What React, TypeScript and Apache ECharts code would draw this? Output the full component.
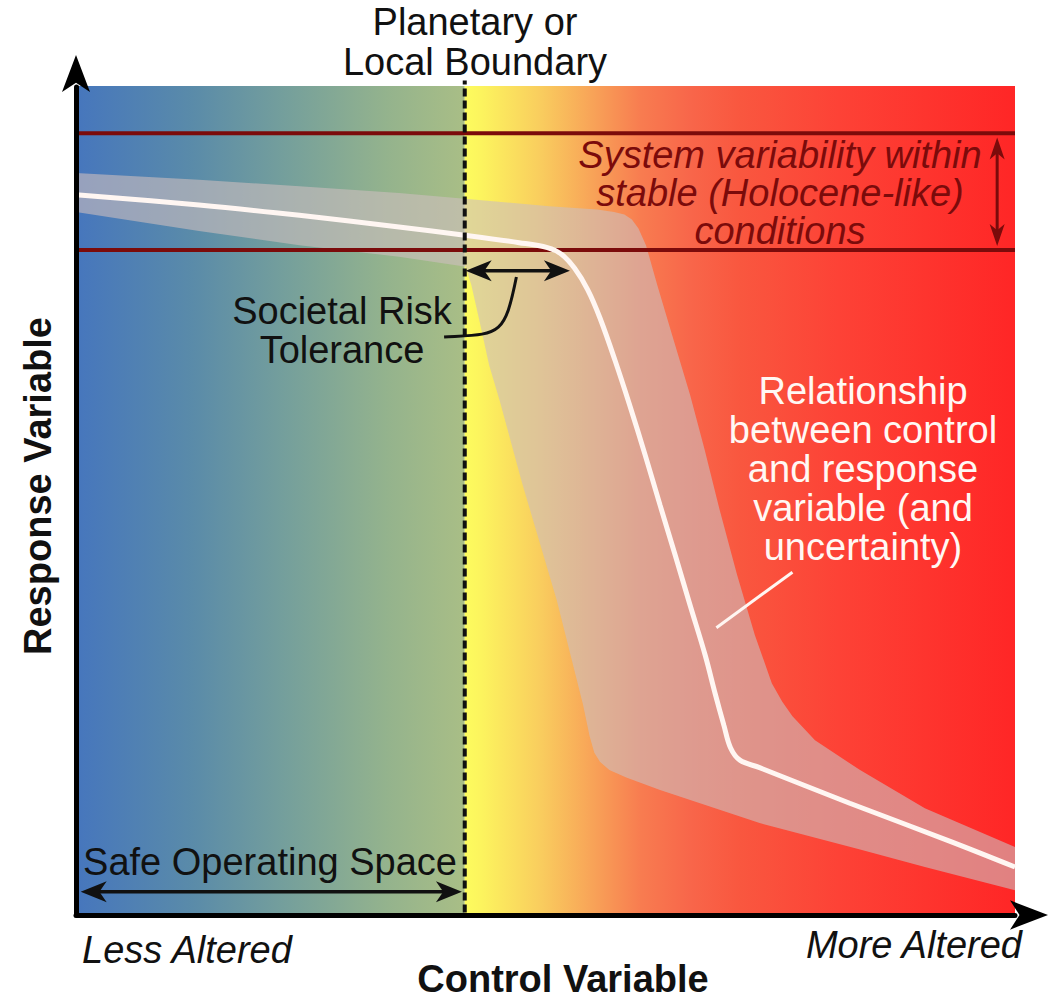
import React, { useEffect, useRef } from 'react';
import * as echarts from 'echarts';

// ---- Data (in abstract 0-100 axis units) ----
const xRange = [0, 100];
const yRange = [0, 100];
const boundaryX = 41.4;
const stableUpperY = 94.4;
const stableLowerY = 80.3;

const curveX = [0, 13.1, 23.8, 34.4, 41.4, 47.2, 50.2, 51.7, 53.1, 54.5, 55.8, 57.4, 58.96, 60.6, 62.2, 63.8, 65.4, 67.0, 68.1, 69.0, 69.7, 70.7, 72.8, 82.4, 93.1, 100];
const curveY = [87.0, 85.75, 84.5, 83.1, 82.1, 81.2, 80.6, 79.8, 78.1, 75.5, 72.1, 67.0, 61.6, 55.6, 49.5, 43.5, 37.4, 31.4, 26.6, 22.9, 20.2, 18.7, 17.8, 13.5, 8.9, 5.8];

const bandUpperX = [0, 13.1, 23.8, 34.4, 41.4, 50.4, 55.5, 57.3, 58.4, 59.2, 59.9, 60.7, 61.9, 63.5, 65.4, 66.95, 68.55, 70.4, 72.3, 74.1, 75.2, 76.3, 78.7, 83.5, 90.4, 100];
const bandUpperY = [89.6, 88.8, 88.0, 87.2, 86.5, 85.6, 85.2, 84.9, 84.6, 84.0, 82.9, 80.9, 76.1, 70.0, 62.8, 56.2, 48.9, 41.1, 33.8, 28.0, 25.8, 24.0, 21.1, 17.5, 12.9, 8.2];
const bandLowerX = [100, 90.4, 83.5, 72.8, 62.2, 58.6, 56.8, 55.8, 55.2, 54.7, 54.0, 51.2, 47.5, 45.1, 44.0, 43.0, 42.1, 41.5, 40.3, 34.4, 23.8, 13.1, 0];
const bandLowerY = [3.0, 5.8, 7.9, 11.1, 15.1, 16.6, 17.5, 18.5, 19.6, 21.6, 25.4, 38.0, 52.2, 62.2, 66.4, 71.6, 76.1, 78.3, 78.5, 79.5, 80.9, 82.6, 84.9];

const safeArrow = [0.5, 2.8, 41.1, 2.8];
const riskArrow = [41.5, 77.8, 52.6, 77.8];
const variabilityArrow = [98.1, 93.9, 98.1, 80.8];
const riskLeaderX = [46.9, 45.6, 45.1, 39.2];
const riskLeaderY = [77.05, 69.7, 70.2, 69.8];
const relationLeaderX = [76.3, 68.2];
const relationLeaderY = [41.4, 34.7];

const FONT = '"Liberation Sans", Arial, Helvetica, sans-serif';

function arrowShapes(p1: number[], p2: number[], headLen: number, headW: number, color: string, lw: number) {
  const dx = p2[0] - p1[0];
  const dy = p2[1] - p1[1];
  const len = Math.hypot(dx, dy) || 1;
  const ux = dx / len, uy = dy / len;
  const nx = -uy, ny = ux;
  const head = (tip: number[], dirx: number, diry: number) => {
    const bx = tip[0] - dirx * headLen, by = tip[1] - diry * headLen;
    const mx = tip[0] - dirx * headLen * 0.72, my = tip[1] - diry * headLen * 0.72;
    return {
      type: 'polygon',
      shape: { points: [tip, [bx + nx * headW / 2, by + ny * headW / 2], [mx, my], [bx - nx * headW / 2, by - ny * headW / 2]] },
      style: { fill: color },
    };
  };
  return [
    {
      type: 'line',
      shape: { x1: p1[0] + ux * headLen * 0.6, y1: p1[1] + uy * headLen * 0.6, x2: p2[0] - ux * headLen * 0.6, y2: p2[1] - uy * headLen * 0.6 },
      style: { stroke: color, lineWidth: lw },
    },
    head(p1, -ux, -uy),
    head(p2, ux, uy),
  ];
}

export default function App() {
  const ref = useRef<HTMLDivElement>(null);
  useEffect(() => {
    if (!ref.current) return;
    document.body.style.margin = '0';
    const chart = echarts.init(ref.current, undefined, { renderer: 'svg' });

    const safeStops = [
      { offset: 0, color: '#4676bd' },
      { offset: 0.3, color: '#5a8ba9' },
      { offset: 0.55, color: '#76a09b' },
      { offset: 0.8, color: '#94b38d' },
      { offset: 1, color: '#a9be86' },
    ];
    const riskStops = [
      { offset: 0, color: '#fdfc5e' },
      { offset: 0.03, color: '#fcf45e' },
      { offset: 0.14, color: '#f9cc5e' },
      { offset: 0.23, color: '#f8a458' },
      { offset: 0.32, color: '#f87c50' },
      { offset: 0.41, color: '#f8664a' },
      { offset: 0.5, color: '#f9573f' },
      { offset: 0.68, color: '#fd4236' },
      { offset: 1, color: '#ff2626' },
    ];

    const text = (x: number, y: number, t: string, extra: any = {}) => ({
      type: 'text',
      x,
      y,
      z: 100,
      rotation: extra.rotation || 0,
      style: {
        text: t,
        fontFamily: FONT,
        fontSize: extra.fontSize || 38,
        fontStyle: extra.fontStyle || 'normal',
        fontWeight: extra.fontWeight || 'normal',
        fill: extra.fill || '#111',
        lineHeight: extra.lineHeight || 40,
        align: extra.align || 'center',
        textAlign: extra.align || 'center',
        verticalAlign: 'middle',
        textVerticalAlign: 'middle',
      },
    });

    const option: any = {
      animation: false,
      grid: { left: 76, right: 46, top: 87, bottom: 85 },
      xAxis: {
        type: 'value', min: xRange[0], max: xRange[1], z: 10,
        axisLine: { show: true, lineStyle: { color: '#000', width: 5 }, symbol: ['none', 'arrow'], symbolSize: [22, 38], symbolOffset: [0, 33] },
        axisTick: { show: false }, axisLabel: { show: false }, splitLine: { show: false },
      },
      yAxis: {
        type: 'value', min: yRange[0], max: yRange[1], z: 10,
        axisLine: { show: true, lineStyle: { color: '#000', width: 5 }, symbol: ['none', 'arrow'], symbolSize: [21, 37], symbolOffset: [0, 32] },
        axisTick: { show: false }, axisLabel: { show: false }, splitLine: { show: false },
      },
      series: [
        {
          type: 'custom', z: 1, silent: true, clip: false,
          data: [[xRange[0], boundaryX, 0], [boundaryX, xRange[1], 1]],
          renderItem: (_p: any, api: any) => {
            const x0 = api.value(0), x1 = api.value(1), idx = api.value(2);
            const a = api.coord([x0, yRange[1]]);
            const b = api.coord([x1, yRange[0]]);
            return {
              type: 'rect',
              shape: { x: a[0], y: a[1] - 1, width: b[0] - a[0], height: b[1] - a[1] + 1 },
              style: { fill: new echarts.graphic.LinearGradient(0, 0, 1, 0, idx === 0 ? safeStops : riskStops) },
            };
          },
        },
        {
          type: 'custom', z: 2, silent: true, clip: true,
          data: [[0, 0]],
          renderItem: (_p: any, api: any) => {
            const pts: number[][] = [];
            bandUpperX.forEach((x, i) => pts.push(api.coord([x, bandUpperY[i]])));
            bandLowerX.forEach((x, i) => pts.push(api.coord([x, bandLowerY[i]])));
            return { type: 'polygon', shape: { points: pts }, style: { fill: 'rgba(205,190,190,0.6)' } };
          },
        },
        {
          type: 'line', z: 3, symbol: 'none', silent: true,
          data: [[xRange[0], stableUpperY], [xRange[1], stableUpperY]],
          lineStyle: { color: '#7b0b0b', width: 4 },
        },
        {
          type: 'line', z: 3, symbol: 'none', silent: true,
          data: [[xRange[0], stableLowerY], [xRange[1], stableLowerY]],
          lineStyle: { color: '#7b0b0b', width: 4 },
        },
        {
          type: 'line', z: 4, symbol: 'none', silent: true, smooth: 0.35,
          data: curveX.map((x, i) => [x, curveY[i]]),
          lineStyle: { color: '#fff6f2', width: 5 },
        },
        {
          type: 'line', z: 5, symbol: 'none', silent: true, clip: false,
          data: [[boundaryX, 0.3], [boundaryX, 100.8]],
          lineStyle: { color: '#111', width: 4, type: [8, 4] },
        },
        {
          type: 'custom', z: 6, silent: true, clip: false,
          data: [safeArrow, riskArrow],
          renderItem: (_p: any, api: any) => {
            const p1 = api.coord([api.value(0), api.value(1)]);
            const p2 = api.coord([api.value(2), api.value(3)]);
            return { type: 'group', children: arrowShapes(p1, p2, 26, 21, '#111', 3.5) };
          },
        },
        {
          type: 'custom', z: 6, silent: true, clip: false,
          data: [variabilityArrow],
          renderItem: (_p: any, api: any) => {
            const p1 = api.coord([api.value(0), api.value(1)]);
            const p2 = api.coord([api.value(2), api.value(3)]);
            return { type: 'group', children: arrowShapes(p1, p2, 22, 15, '#7b0b0b', 3) };
          },
        },
        {
          type: 'custom', z: 6, silent: true, clip: false,
          data: [[0, 0]],
          renderItem: (_p: any, api: any) => {
            const c = riskLeaderX.map((x, i) => api.coord([x, riskLeaderY[i]]));
            const r = relationLeaderX.map((x, i) => api.coord([x, relationLeaderY[i]]));
            return {
              type: 'group',
              children: [
                {
                  type: 'bezierCurve',
                  shape: { x1: c[0][0], y1: c[0][1], cpx1: c[1][0], cpy1: c[1][1], cpx2: c[2][0], cpy2: c[2][1], x2: c[3][0], y2: c[3][1] },
                  style: { stroke: '#111', lineWidth: 3, fill: 'none' },
                },
                {
                  type: 'line',
                  shape: { x1: r[0][0], y1: r[0][1], x2: r[1][0], y2: r[1][1] },
                  style: { stroke: '#fff6f2', lineWidth: 3 },
                },
              ],
            };
          },
        },
      ],
      graphic: [
        text(475, 42, 'Planetary or\nLocal Boundary'),
        text(780, 193, 'System variability within\nstable (Holocene-like)\nconditions', { fontStyle: 'italic', fill: '#7b0b0b', lineHeight: 38, fontSize: 38 }),
        text(342, 330, 'Societal Risk\nTolerance', { lineHeight: 39 }),
        text(863, 469, 'Relationship\nbetween control\nand response\nvariable (and\nuncertainty)', { fill: '#fff8f4', lineHeight: 38.8 }),
        text(270, 862, 'Safe Operating Space'),
        text(82, 950, 'Less Altered', { fontStyle: 'italic', align: 'left' }),
        text(1022, 945, 'More Altered', { fontStyle: 'italic', align: 'right' }),
        text(563, 979, 'Control Variable', { fontWeight: 'bold' }),
        text(38, 486, 'Response Variable', { fontWeight: 'bold', rotation: Math.PI / 2 }),
      ],
    };
    chart.setOption(option);
    return () => chart.dispose();
  }, []);
  return <div ref={ref} style={{ position: 'absolute', left: 0, top: 0, width: 1061, height: 1000 }} />;
}
